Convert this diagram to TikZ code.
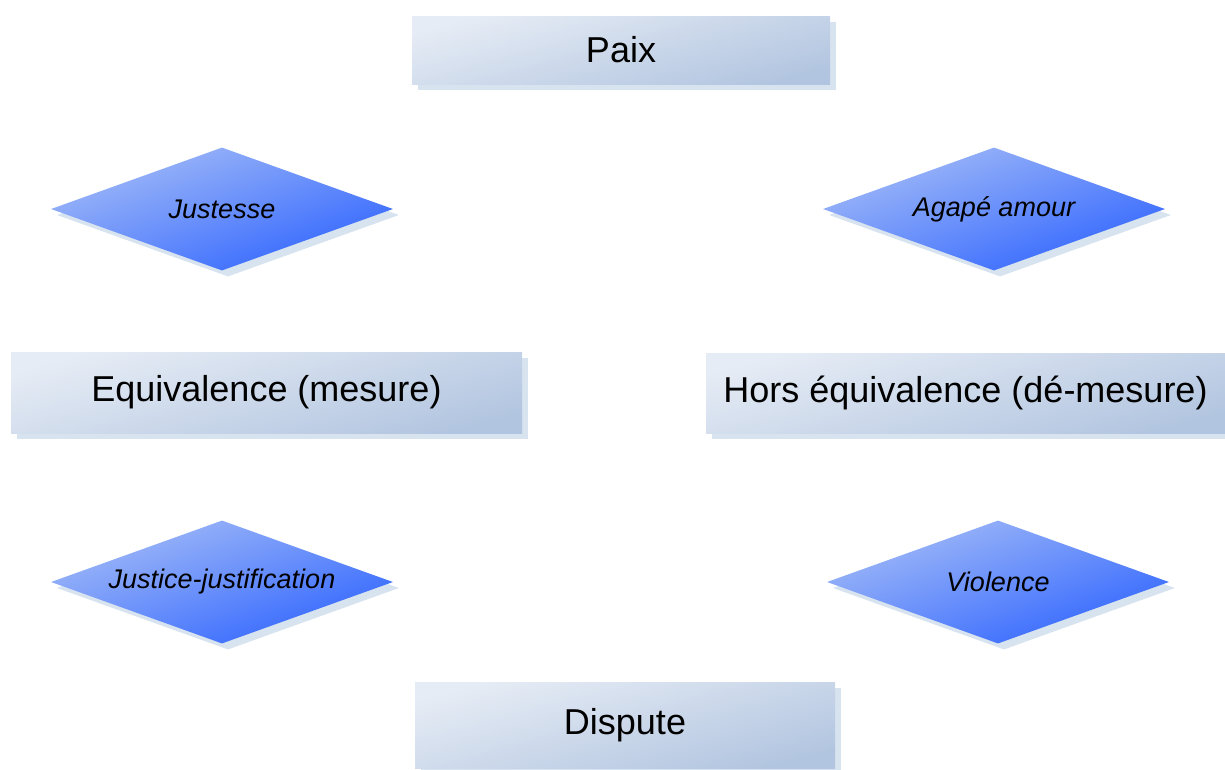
\documentclass[tikz,border=0pt]{standalone}
\usepackage{fontspec}
\setmainfont{Liberation Sans}
\usetikzlibrary{shapes.geometric,shadows}
\definecolor{boxL}{HTML}{E6ECF5}
\definecolor{boxD}{HTML}{B2C5E0}
\definecolor{diaL}{HTML}{A3BBF7}
\definecolor{diaD}{HTML}{3065FF}
\definecolor{shad}{HTML}{D8E3F0}
\begin{document}
\begin{tikzpicture}[x=1pt,y=-1pt,
  box/.style={rectangle, draw=none, inner sep=0pt,
    top color=boxL, bottom color=boxD, shading angle=15,
    drop shadow={shadow xshift=6pt, shadow yshift=-6pt, fill=shad, opacity=1},
    font=\fontsize{36}{43}\selectfont},
  dia/.style={diamond, draw=none, aspect=2.78, inner sep=0pt,
    minimum width=342pt, minimum height=123pt,
    top color=diaL, bottom color=diaD, shading angle=20,
    drop shadow={shadow xshift=6pt, shadow yshift=-6pt, fill=shad, opacity=1},
    font=\itshape\fontsize{27}{32}\selectfont}]
\useasboundingbox (0,0) rectangle (1225,769);
\node[box, minimum width=418pt, minimum height=68pt] (paix) at (621,50) {Paix};
\node[box, minimum width=511pt, minimum height=81pt] (equi) at (266.5,392.5) {Equivalence (mesure)};
\node[box, minimum width=519pt, minimum height=80pt] (hors) at (965.5,393) {Hors équivalence (dé-mesure)};
\node[box, minimum width=420pt, minimum height=86pt] (disp) at (625,725) {Dispute};
\node[dia] (just) at (222,209) {Justesse};
\node[dia] (agape) at (994,209) {Agapé amour};
\node[dia] (justice) at (222,582) {Justice-justification};
\node[dia] (viol) at (998,582) {Violence};
\end{tikzpicture}
\end{document}
